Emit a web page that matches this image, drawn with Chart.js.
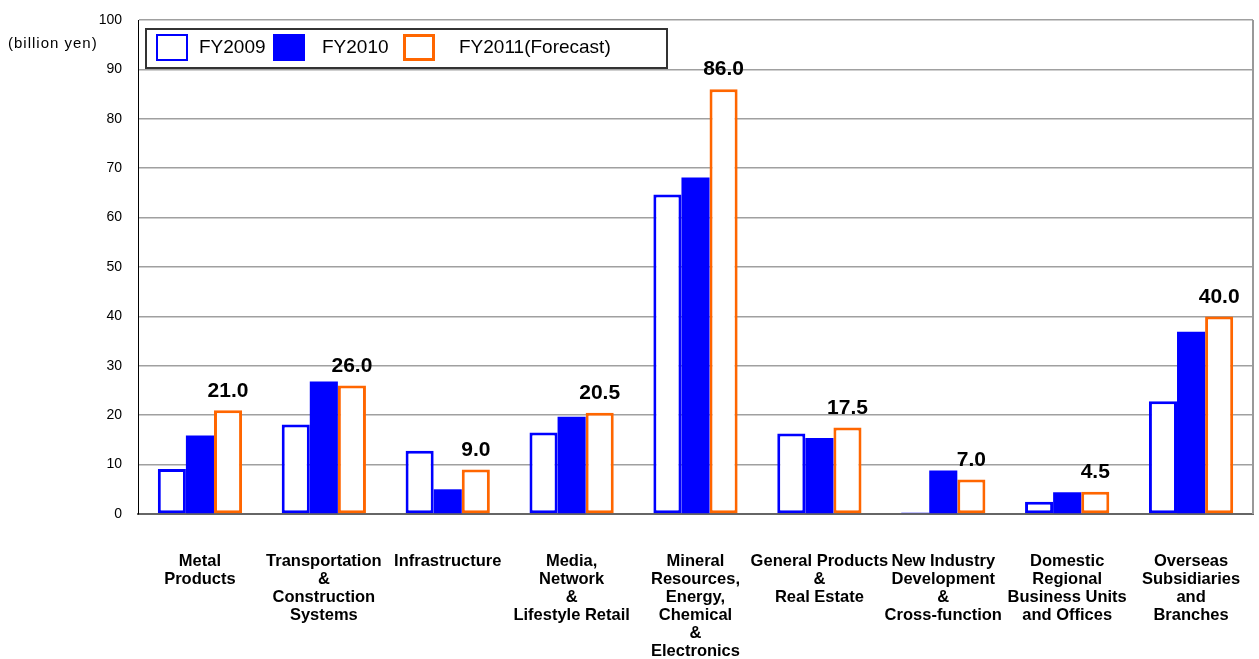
<!DOCTYPE html>
<html>
<head>
<meta charset="utf-8">
<script src="https://cdn.jsdelivr.net/npm/chart.js@4/dist/chart.umd.min.js"></script>
<style>
  html, body { margin: 0; padding: 0; background: #fff; }
  #wrap { width: 1259px; height: 659px; position: relative; }
</style>
</head>
<body>
<div id="wrap"><canvas id="c"></canvas></div>
<script>
// Segment profit by business group (billion yen)
const categories = [
  ['Metal', 'Products'],
  ['Transportation', '&', 'Construction', 'Systems'],
  ['Infrastructure'],
  ['Media,', 'Network', '&', 'Lifestyle Retail'],
  ['Mineral', 'Resources,', 'Energy,', 'Chemical', '&', 'Electronics'],
  ['General Products', '&', 'Real Estate'],
  ['New Industry', 'Development', '&', 'Cross-function'],
  ['Domestic', 'Regional', 'Business Units', 'and Offices'],
  ['Overseas', 'Subsidiaries', 'and', 'Branches']
];
const seriesNames = ['FY2009', 'FY2010', 'FY2011(Forecast)'];
const fy2009 = [9.1, 18.1, 12.8, 16.5, 64.7, 16.3, 0.3, 2.5, 22.8];
const fy2010 = [15.9, 26.8, 5.0, 19.7, 68.1, 15.4, 8.8, 4.4, 36.9];
const fy2011 = [21.0, 26.0, 9.0, 20.5, 86.0, 17.5, 7.0, 4.5, 40.0];
const yTickValues = [0, 10, 20, 30, 40, 50, 60, 70, 80, 90, 100];
const unitLabel = '(billion yen)';

const BLUE = '#0000FF';
const ORANGE = '#FF6600';
const FONT = '"Liberation Sans", Arial, sans-serif';

// Value labels above the forecast bars, plus the legend box, unit caption and plot frame
const decorations = {
  id: 'decorations',
  afterDatasetsDraw(chart) {
    const ctx = chart.ctx;
    const area = chart.chartArea;
    ctx.save();

    // right edge of the plot frame
    ctx.strokeStyle = '#999';
    ctx.lineWidth = 2;
    ctx.beginPath();
    ctx.moveTo(area.right, area.top);
    ctx.lineTo(area.right, area.bottom);
    ctx.stroke();

    // forecast value labels
    const meta = chart.getDatasetMeta(2);
    ctx.fillStyle = '#000';
    ctx.font = 'bold 21px ' + FONT;
    ctx.textAlign = 'center';
    ctx.textBaseline = 'bottom';
    meta.data.forEach((bar, i) => {
      ctx.fillText(fy2011[i].toFixed(1), bar.x, bar.y - 9);
    });

    // unit caption
    ctx.font = '15px ' + FONT;
    ctx.letterSpacing = '1px';
    ctx.textAlign = 'left';
    ctx.textBaseline = 'middle';
    ctx.fillText(unitLabel, 8, 44);
    ctx.letterSpacing = '0px';

    // legend box
    const bx = 146, by = 29, bw = 521, bh = 39;
    ctx.fillStyle = '#fff';
    ctx.fillRect(bx, by, bw, bh);
    ctx.strokeStyle = '#333';
    ctx.lineWidth = 2;
    ctx.strokeRect(bx, by, bw, bh);

    const items = [
      { sx: 156, tx: 199, fill: '#fff', stroke: BLUE, lw: 2 },
      { sx: 273, tx: 322, fill: BLUE, stroke: BLUE, lw: 2 },
      { sx: 403, tx: 459, fill: '#fff', stroke: ORANGE, lw: 3 }
    ];
    items.forEach((it, i) => {
      const sw = 32, sh = 27, sy = 34;
      ctx.fillStyle = it.fill;
      ctx.fillRect(it.sx, sy, sw, sh);
      ctx.strokeStyle = it.stroke;
      ctx.lineWidth = it.lw;
      ctx.strokeRect(it.sx + it.lw / 2, sy + it.lw / 2, sw - it.lw, sh - it.lw);
      ctx.fillStyle = '#000';
      ctx.font = '19px ' + FONT;
      ctx.textAlign = 'left';
      ctx.textBaseline = 'middle';
      ctx.fillText(seriesNames[i], it.tx, 48);
    });

    ctx.restore();
  }
};

new Chart(document.getElementById('c'), {
  type: 'bar',
  data: {
    labels: categories,
    datasets: [
      { label: seriesNames[0], data: fy2009, backgroundColor: '#fff', borderColor: BLUE, borderWidth: 3, borderSkipped: false },
      { label: seriesNames[1], data: fy2010, backgroundColor: BLUE, borderColor: BLUE, borderWidth: 0, borderSkipped: false },
      { label: seriesNames[2], data: fy2011, backgroundColor: '#fff', borderColor: ORANGE, borderWidth: 3, borderSkipped: false }
    ]
  },
  options: {
    responsive: true,
    maintainAspectRatio: false,
    animation: false,
    datasets: { bar: { categoryPercentage: 0.68, barPercentage: 1.0 } },
    layout: { padding: { top: 20, right: 6, left: 0, bottom: 0 } },
    plugins: { legend: { display: false }, tooltip: { enabled: false } },
    scales: {
      x: {
        grid: { display: false, drawTicks: false },
        border: { display: true, color: '#666', width: 2 },
        ticks: {
          color: '#000',
          font: { family: FONT, size: 16.5, weight: 'bold', lineHeight: 1.1 },
          padding: 38,
          maxRotation: 0,
          autoSkip: false
        },
        afterFit(scale) {
          scale.height = 145;
          scale.paddingLeft = 0;
          scale.paddingRight = 0;
        }
      },
      y: {
        min: 0,
        max: 100,
        afterBuildTicks(scale) { scale.ticks = yTickValues.map(v => ({ value: v })); },
        grid: { color: '#a0a0a0', lineWidth: 1.5, drawTicks: false },
        border: { display: true, color: '#000', width: 1 },
        ticks: {
          color: '#000',
          font: { family: FONT, size: 14 },
          padding: 16
        },
        afterFit(scale) {
          scale.width = 138;
          scale.paddingTop = 0;
          scale.paddingBottom = 0;
        }
      }
    }
  },
  plugins: [decorations]
});
</script>
</body>
</html>
